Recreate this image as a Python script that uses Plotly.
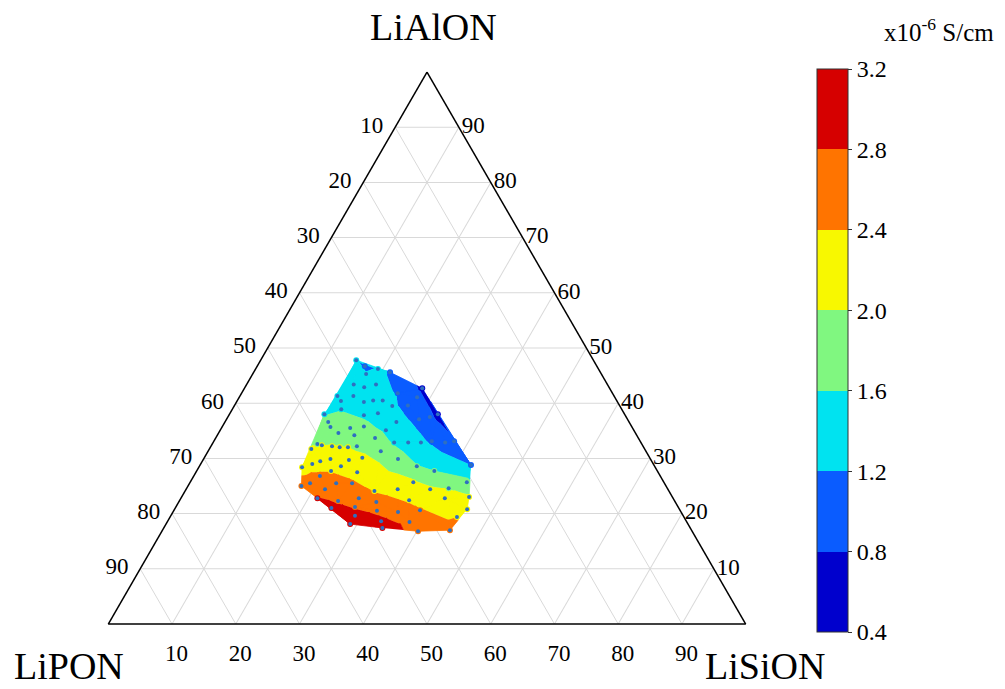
import math
import plotly.graph_objects as go

# ---- data (composition in %, conductivity in 1e-6 S/cm) ----
LIALON = [47.8, 45.3, 45.6, 43.4, 42.9, 43.4, 42.7, 41.8, 41.1, 41.3,
          41.3, 40.4, 40.2, 40.5, 40.5, 39.5, 39.6, 38.9, 38.0, 37.8,
          38.2, 38.0, 36.6, 36.6, 37.1, 37.5, 35.7, 35.5, 35.8, 35.1,
          34.6, 34.2, 33.7, 32.9, 32.9, 32.9, 33.1, 32.9, 33.1, 32.6,
          32.4, 32.2, 32.0, 32.0, 32.2, 31.7, 31.3, 28.4, 29.0, 29.5,
          29.9, 28.6, 29.7, 30.1, 29.9, 28.6, 27.7, 28.8, 26.8, 27.7,
          27.5, 25.0, 25.5, 24.4, 25.5, 25.5, 24.1, 24.4, 25.7, 24.4,
          24.6, 25.7, 22.8, 22.3, 22.8, 22.1, 22.4, 22.8, 23.0, 21.0,
          21.2, 20.5, 20.3, 20.6, 20.8, 19.4, 19.6, 18.1, 18.6, 17.4,
          18.5, 16.8, 17.0, 46.7, 46.2]
LISION = [15.0, 17.8, 21.4, 16.8, 18.7, 20.3, 27.9, 24.5, 27.9, 15.3,
          17.8, 16.3, 20.0, 21.3, 22.8, 24.8, 27.2, 17.1, 14.9, 21.2,
          23.2, 32.7, 16.2, 26.9, 30.2, 31.7, 17.0, 20.2, 22.2, 26.0,
          18.8, 21.5, 25.0, 28.4, 30.6, 32.6, 34.2, 36.4, 37.7, 16.5,
          17.3, 19.0, 20.3, 21.6, 22.9, 16.0, 27.1, 16.2, 17.5, 18.5,
          19.9, 22.2, 22.9, 24.8, 30.5, 34.1, 37.3, 42.5, 19.8, 21.1,
          25.3, 17.8, 18.9, 21.8, 23.0, 25.5, 29.7, 33.2, 35.0, 38.3,
          41.1, 43.4, 21.4, 24.9, 27.9, 31.0, 36.0, 41.4, 45.1, 24.5,
          28.1, 31.9, 35.3, 38.6, 45.9, 45.0, 28.9, 28.9, 33.5, 34.3,
          38.0, 40.2, 45.1, 16.9, 19.2]
SIGMA = [1.35, 1.32, 1.18, 1.38, 1.35, 1.27, 0.72, 1.18, 0.95, 1.50,
         1.46, 1.53, 1.45, 1.40, 1.30, 1.27, 1.08, 1.58, 1.58, 1.56,
         1.45, 0.70, 1.73, 1.36, 1.08, 0.88, 1.80, 1.76, 1.68, 1.55,
         1.87, 1.82, 1.74, 1.56, 1.42, 1.28, 1.14, 1.00, 0.85, 1.98,
         2.00, 2.02, 2.01, 2.00, 1.93, 2.05, 1.85, 2.24, 2.27, 2.25,
         2.22, 2.28, 2.16, 2.07, 1.76, 1.62, 1.60, 1.20, 2.46, 2.39,
         2.27, 2.60, 2.57, 2.63, 2.52, 2.45, 2.38, 2.25, 2.05, 2.07,
         1.98, 1.72, 2.82, 2.75, 2.62, 2.56, 2.36, 2.15, 2.05, 2.93,
         2.76, 2.72, 2.60, 2.43, 2.26, 2.40, 2.96, 3.15, 2.90, 3.00,
         2.70, 2.66, 2.52, 0.85, 1.30]
LIPON = [round(100 - a - c, 1) for a, c in zip(LIALON, LISION)]

LEVELS = [0.4, 0.8, 1.2, 1.6, 2.0, 2.4, 2.8, 3.2]
LEVEL_TEXT = ["0.4", "0.8", "1.2", "1.6", "2.0", "2.4", "2.8", "3.2"]
BAND_COLORS = ["#0000CD", "#0A5CFF", "#00E3F0", "#80F780", "#F8F800", "#FF7400", "#D60000"]
TICKS = [10, 20, 30, 40, 50, 60, 70, 80, 90]
TICK_TEXT = [str(100 - v) for v in TICKS]
CORNERS = ["LiAlON", "LiPON", "LiSiON"]
UNIT = "x10<sup>-6</sup> S/cm"

SERIF = "Liberation Serif, Times New Roman, serif"
S3 = math.sqrt(3) / 2
W, H = 1005, 689


def to_xy(a, c):
    return (c / 100 + a / 200, a / 100 * S3)


def to_abc(x, y):
    a = y / S3
    c = x - a / 2
    b = 1 - a - c
    return a * 100, b * 100, c * 100


def circum(p, q, r):
    ax, ay = p
    bx, by = q
    cx, cy = r
    d = 2 * (ax * (by - cy) + bx * (cy - ay) + cx * (ay - by))
    if abs(d) < 1e-14:
        return (0.0, 0.0, float("inf"))
    ux = ((ax * ax + ay * ay) * (by - cy) + (bx * bx + by * by) * (cy - ay) + (cx * cx + cy * cy) * (ay - by)) / d
    uy = ((ax * ax + ay * ay) * (cx - bx) + (bx * bx + by * by) * (ax - cx) + (cx * cx + cy * cy) * (bx - ax)) / d
    return ux, uy, (ax - ux) ** 2 + (ay - uy) ** 2


def delaunay(points):
    n = len(points)
    P = list(points) + [(-60.0, -60.0), (60.0, -60.0), (0.0, 70.0)]
    tris = {(n, n + 1, n + 2): circum(P[n], P[n + 1], P[n + 2])}
    for i in range(n):
        px, py = P[i]
        bad = [t for t, (ux, uy, r2) in tris.items() if (px - ux) ** 2 + (py - uy) ** 2 < r2]
        cnt = {}
        for t in bad:
            for e in ((t[0], t[1]), (t[1], t[2]), (t[2], t[0])):
                k = tuple(sorted(e))
                cnt[k] = cnt.get(k, 0) + 1
            del tris[t]
        for (u, v), m in cnt.items():
            if m == 1:
                tris[(u, v, i)] = circum(P[u], P[v], P[i])
    return [t for t in tris if max(t) < n]


def clip(poly, lev, above):
    out = []
    m = len(poly)
    for k in range(m):
        x1, y1, v1 = poly[k]
        x2, y2, v2 = poly[(k + 1) % m]
        in1 = v1 >= lev if above else v1 <= lev
        in2 = v2 >= lev if above else v2 <= lev
        if in1:
            out.append(poly[k])
        if in1 != in2:
            t = (lev - v1) / (v2 - v1)
            out.append((x1 + t * (x2 - x1), y1 + t * (y2 - y1), lev))
    return out


pts = [to_xy(a, c) for a, c in zip(LIALON, LISION)]
tris = delaunay(pts)

fig = go.Figure()

nb = len(BAND_COLORS)
for k, col in enumerate(BAND_COLORS):
    lo = LEVELS[k] if k > 0 else None
    hi = LEVELS[k + 1] if k < nb - 1 else None
    A, B, C = [], [], []
    for t in tris:
        poly = [(pts[j][0], pts[j][1], SIGMA[j]) for j in t]
        if lo is not None:
            poly = clip(poly, lo, True)
        if poly and hi is not None:
            poly = clip(poly, hi, False)
        if len(poly) < 3:
            continue
        for x, y, _ in poly:
            a, b, c = to_abc(x, y)
            A.append(a)
            B.append(b)
            C.append(c)
        A.append(None)
        B.append(None)
        C.append(None)
    fig.add_trace(go.Scatterternary(
        a=A, b=B, c=C, mode="lines", fill="toself", fillcolor=col,
        line=dict(color=col, width=0.8), hoverinfo="skip", showlegend=False))

# colour bar carrier (invisible markers)
cs = []
for k, col in enumerate(BAND_COLORS):
    cs.append([k / nb, col])
    cs.append([(k + 1) / nb, col])
fig.add_trace(go.Scatterternary(
    a=LIALON, b=LIPON, c=LISION, mode="markers", hoverinfo="skip", showlegend=False,
    marker=dict(size=0, color=SIGMA, cmin=LEVELS[0], cmax=LEVELS[-1], colorscale=cs,
                showscale=True,
                colorbar=dict(x=817 / W, xanchor="left", xpad=0,
                              y=(H - 632) / H, yanchor="bottom", ypad=0,
                              len=(632 - 69) / H, lenmode="fraction", thickness=31,
                              outlinecolor="#333333", outlinewidth=1, borderwidth=0,
                              tickmode="array", tickvals=LEVELS, ticktext=LEVEL_TEXT,
                              ticks="outside", ticklen=4, tickcolor="#333333",
                              tickfont=dict(family=SERIF, size=24, color="black")))))

# measured compositions
fig.add_trace(go.Scatterternary(
    a=LIALON, b=LIPON, c=LISION, mode="markers", showlegend=False,
    marker=dict(size=4, color="#2f6fc0", line=dict(width=0)),
    customdata=SIGMA,
    hovertemplate="LiAlON %{a}<br>LiPON %{b}<br>LiSiON %{c}<br>σ %{customdata}<extra></extra>"))


def axis(ticklen):
    return dict(
        title=dict(text=""),
        tickmode="array", tickvals=TICKS, ticktext=TICK_TEXT,
        tickfont=dict(family=SERIF, size=23, color="black"),
        showgrid=True, gridcolor="#d9d9d9", gridwidth=1,
        showline=True, linecolor="black", linewidth=1.5,
        ticks="outside" if ticklen else "", ticklen=ticklen, tickcolor="rgba(0,0,0,0)",
        min=0)


def label(text, x, y, size=38, xanchor="center"):
    return dict(text=text, x=x / W, y=1 - y / H, xref="paper", yref="paper",
                xanchor=xanchor, yanchor="middle", showarrow=False,
                font=dict(family=SERIF, size=size, color="black"))


fig.update_layout(
    width=W, height=H,
    margin=dict(l=0, r=0, t=0, b=0),
    paper_bgcolor="white",
    showlegend=False,
    font=dict(family=SERIF, color="black"),
    ternary=dict(
        sum=100, bgcolor="white",
        domain=dict(x=[108 / W, 746 / W], y=[1 - 624 / H, 1 - 72 / H]),
        aaxis=axis(8), baxis=axis(9), caxis=axis(0)),
    annotations=[
        label(CORNERS[0], 433, 27),
        label(CORNERS[1], 69, 666),
        label(CORNERS[2], 765, 666),
        label(UNIT, 882, 30, size=25, xanchor="left"),
    ],
)

fig.write_html("out.html", config={"displayModeBar": False},
               post_script="document.body.style.margin='0px';")
